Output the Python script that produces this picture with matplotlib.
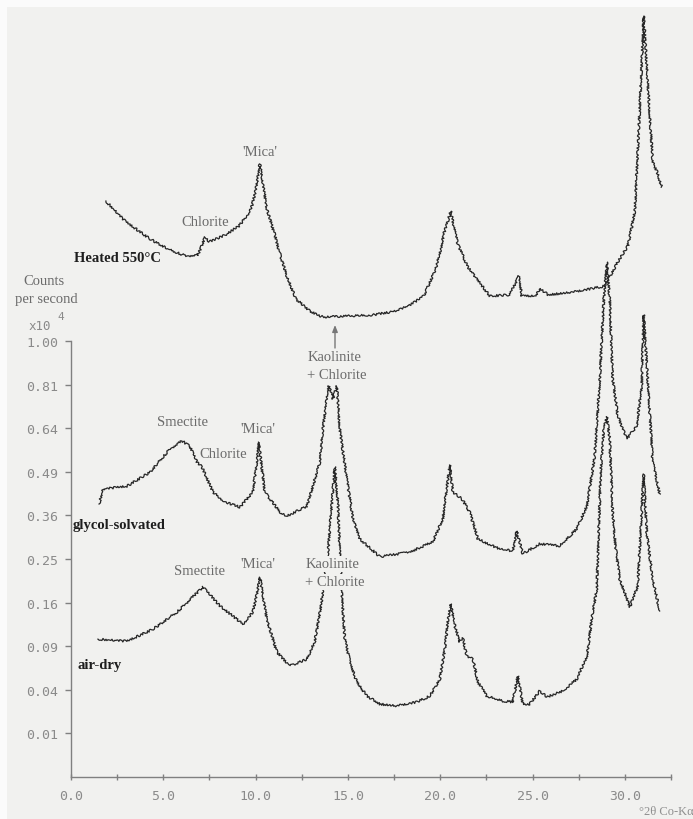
import numpy as np
import matplotlib
matplotlib.use("Agg")
import matplotlib.pyplot as plt
from matplotlib.patches import Rectangle, FancyArrowPatch

# ---- diffraction traces: 2-theta (deg, Co K-alpha) and counts per second (x1e4) ----
heated_2theta = [1.89, 2.92, 4.28, 5.36, 6.23, 6.88, 7.26, 7.47, 8.34, 9.10, 9.58, 9.80,
                 10.02, 10.23, 10.40, 10.61, 10.99, 11.32, 11.69, 12.18, 12.94, 13.64,
                 16.35, 17.65, 18.46, 19.11, 19.76, 20.03, 20.19, 20.41, 20.57, 20.74,
                 20.95, 21.49, 21.98, 22.69, 23.77, 24.26, 24.42, 25.12, 25.45, 25.83,
                 27.23, 28.91, 29.62, 30.16, 30.54, 30.75, 30.91, 31.02, 31.24, 31.51,
                 31.73, 32.00]
heated_cps = [1.745, 1.626, 1.523, 1.461, 1.428, 1.433, 1.534, 1.506, 1.545, 1.597, 1.667,
              1.715, 1.819, 1.977, 1.850, 1.697, 1.563, 1.439, 1.320, 1.202, 1.142, 1.113,
              1.123, 1.142, 1.177, 1.217, 1.358, 1.467, 1.551, 1.626, 1.685, 1.591,
              1.494, 1.368, 1.305, 1.217, 1.223, 1.320, 1.217, 1.217, 1.253, 1.223,
              1.237, 1.268, 1.395, 1.483, 1.679, 2.189, 2.659, 3.046, 2.541, 1.990,
              1.930, 1.831]

glycol_2theta = [1.52, 1.73, 3.03, 4.28, 5.36, 6.01, 6.44, 6.82, 7.09, 7.69, 8.34, 9.15,
                 9.85, 10.02, 10.18, 10.34, 10.50, 11.32, 11.69, 12.78, 13.48, 13.64,
                 13.86, 13.97, 14.19, 14.40, 14.56, 14.94, 15.27, 15.65, 16.73, 18.35,
                 19.60, 20.14, 20.52, 20.68, 21.17, 21.60, 22.04, 23.23, 23.93, 24.15,
                 24.47, 25.39, 26.48, 27.40, 27.94, 28.37, 28.64, 28.86, 29.02, 29.18,
                 29.34, 29.62, 30.10, 30.64, 30.91, 31.02, 31.24, 31.51, 31.89]
glycol_cps = [0.392, 0.436, 0.445, 0.489, 0.566, 0.594, 0.576, 0.522, 0.506, 0.427, 0.398,
              0.383, 0.427, 0.499, 0.590, 0.499, 0.427, 0.369, 0.358, 0.386, 0.522, 0.637,
              0.752, 0.804, 0.752, 0.804, 0.637, 0.467, 0.350, 0.298, 0.255, 0.266,
              0.291, 0.350, 0.512, 0.427, 0.407, 0.369, 0.298, 0.273, 0.269, 0.318,
              0.262, 0.286, 0.281, 0.324, 0.386, 0.542, 0.833, 1.202, 1.395, 1.202,
              0.833, 0.686, 0.601, 0.648, 0.804, 1.123, 0.833, 0.522, 0.421]

airdry_2theta = [1.46, 3.03, 4.44, 5.74, 7.15, 8.07, 9.31, 9.85, 10.07, 10.23, 10.61, 11.15,
                 11.86, 12.78, 13.21, 13.48, 13.64, 13.92, 14.13, 14.29, 14.46, 14.56,
                 14.67, 14.83, 15.11, 15.48, 16.03, 16.73, 17.65, 18.73, 19.44, 19.98,
                 20.25, 20.41, 20.57, 20.79, 21.06, 21.22, 21.44, 21.77, 22.04, 22.52,
                 23.39, 23.93, 24.20, 24.47, 24.85, 25.39, 25.77, 26.64, 27.40, 27.94,
                 28.26, 28.48, 28.53, 28.70, 28.86, 29.02, 29.18, 29.34, 29.51, 29.72,
                 30.27, 30.70, 30.86, 31.02, 31.19, 31.51, 31.89]
airdry_cps = [0.100, 0.097, 0.115, 0.143, 0.190, 0.154, 0.123, 0.143, 0.176, 0.210, 0.131,
              0.082, 0.065, 0.073, 0.0973, 0.143, 0.180, 0.266, 0.392, 0.506, 0.392, 0.266,
              0.176, 0.100, 0.0696, 0.0475, 0.0345, 0.0280, 0.0265, 0.0296, 0.0345, 0.0505,
              0.0862, 0.1264, 0.1574, 0.1199, 0.0959, 0.1016, 0.0770, 0.0732, 0.0475, 0.0345,
              0.0304, 0.0296, 0.0537, 0.0280, 0.0280, 0.0389, 0.0337, 0.0389, 0.0505, 0.0770,
              0.1432, 0.1859, 0.250, 0.499, 0.637, 0.682, 0.601, 0.369, 0.273, 0.206,
              0.152, 0.192, 0.324, 0.483, 0.311, 0.206, 0.145]

ytick_values = [0.01, 0.04, 0.09, 0.16, 0.25, 0.36, 0.49, 0.64, 0.81, 1.00]
xtick_values = [0, 5, 10, 15, 20, 25, 30]

W, H = 693, 820
BG = "#f1f1ef"
TRACE = "#262626"
LABEL_GRAY = "#6b6b6b"
AXIS_GRAY = "#808080"
SERIF = "Liberation Serif"
MONO = "DejaVu Sans Mono"

fig = plt.figure(figsize=(W / 100, H / 100), dpi=100, facecolor=BG)


def fx(x):
    return x / W


def fy(y):
    return 1 - y / H


# plotting area: x from 0 to 32.5 deg, square-root count axis
ax = fig.add_axes([fx(71), fy(778), fx(671) - fx(71), fy(0) - fy(778)])
ax.set_facecolor("none")
ax.set_yscale("function",
              functions=(lambda v: np.sqrt(np.clip(v, 0, None)), lambda s: np.square(s)))
ax.set_xlim(0, 32.5)
ax.set_ylim(0, (778 / 436) ** 2)

for xs, ys in [(heated_2theta, heated_cps), (glycol_2theta, glycol_cps),
               (airdry_2theta, airdry_cps)]:
    ln, = ax.plot(xs, ys, color=TRACE, lw=0.9, solid_joinstyle="round", zorder=3)
    ln.set_sketch_params(scale=1.1, length=2.5, randomness=3)

for side in ("top", "right"):
    ax.spines[side].set_visible(False)
ax.spines["left"].set_bounds(0, 1.0)
for side in ("left", "bottom"):
    ax.spines[side].set_color(AXIS_GRAY)
    ax.spines[side].set_linewidth(1.0)

ax.set_yticks(ytick_values)
ax.set_yticklabels([f"{v:.2f}" for v in ytick_values])
ax.yaxis.set_minor_locator(matplotlib.ticker.NullLocator())
ax.set_xticks(xtick_values)
ax.set_xticklabels([f"{v:.1f}" for v in xtick_values])
ax.set_xticks(np.arange(2.5, 33, 5), minor=True)
ax.tick_params(axis="y", direction="out", length=4, width=1, color=AXIS_GRAY,
               pad=5, labelsize=9.5, labelcolor="#8a8a8a")
ax.tick_params(axis="x", which="both", direction="inout", length=4, width=1,
               color=AXIS_GRAY, pad=7, labelsize=9.5, labelcolor="#8a8a8a")
for lab in ax.get_xticklabels() + ax.get_yticklabels():
    lab.set_fontfamily(MONO)


def label(x, y, s, bold=False, color=LABEL_GRAY, size=10.5, ha="center", box=False):
    kw = {}
    if box:
        kw["bbox"] = dict(boxstyle="square,pad=0.1", facecolor=BG, edgecolor="none")
    fig.text(fx(x), fy(y), s, ha=ha, va="center", fontsize=size, color=color,
             family=SERIF, fontweight="bold" if bold else "normal", zorder=5, **kw)


# heated trace annotations
label(260, 153, "'Mica'")
label(205, 223, "Chlorite")
label(118, 259, "Heated 550°C", bold=True, color="#1e1e1e")

# axis caption
label(44, 282, "Counts")
label(46, 300, "per second")
fig.text(fx(40), fy(327), "x10", ha="center", va="center", fontsize=9,
         color="#8a8a8a", family=MONO)
fig.text(fx(61), fy(317), "4", ha="center", va="center", fontsize=8,
         color="#8a8a8a", family=MONO)

# glycol-solvated annotations
label(335, 358, "Kaolinite")
label(337, 376, "+ Chlorite")
fig.add_artist(FancyArrowPatch(
    (fx(335), fy(349)), (fx(335), fy(326)), transform=fig.transFigure,
    arrowstyle="-|>,head_length=4,head_width=1.6", color="#777777", lw=1.0,
    shrinkA=0, shrinkB=0))
label(183, 423, "Smectite")
label(223, 455, "Chlorite")
label(258, 430, "'Mica'")
label(73, 525, "glycol-solvated", bold=True, color="#1e1e1e", ha="left")

# air-dry annotations
label(200, 572, "Smectite")
label(258, 565, "'Mica'")
label(333, 565, "Kaolinite", box=True)
label(335, 583, "+ Chlorite", box=True)
label(77, 666, "air-dry", bold=True, color="#1e1e1e", ha="left")

# x axis unit
fig.text(fx(639), fy(812), "°2θ Co-Kα", ha="left", va="center", fontsize=9,
         color="#8f8f8f", family=SERIF)

# pale paper margins
fig.patches.append(Rectangle((0, 0), fx(7), 1, transform=fig.transFigure,
                             facecolor="#fbfbfb", edgecolor="none", zorder=0))
fig.patches.append(Rectangle((0, fy(8)), 1, 1 - fy(8), transform=fig.transFigure,
                             facecolor="#fbfbfb", edgecolor="none", zorder=0))

fig.savefig("out.png", dpi=100, facecolor=BG)
